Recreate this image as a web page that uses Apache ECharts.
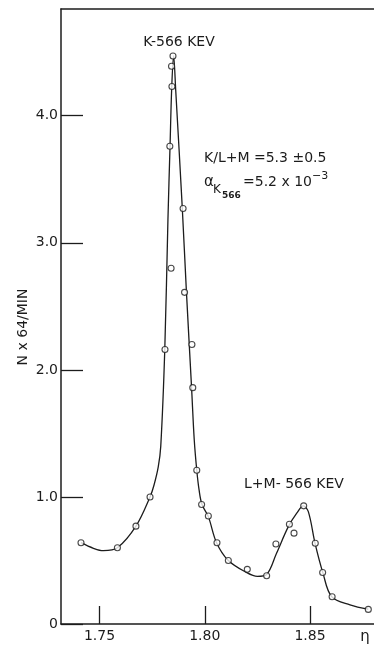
<!DOCTYPE html>
<html>
<head>
<meta charset="utf-8">
<script src="https://cdn.jsdelivr.net/npm/echarts@6/dist/echarts.min.js"></script>
<style>
html,body{margin:0;padding:0;background:#fff;}
#chart{width:374px;height:645px;}
</style>
</head>
<body>
<div id="chart"></div>
<script>
// Measured points (eta, N x 64/min)
var pointEta = [1.7412,1.7585,1.7673,1.7740,1.7811,1.7834,1.7840,1.7844,1.7842,1.7849,1.7897,1.7904,1.7939,1.7943,1.7962,1.7985,1.8017,1.8058,1.8112,1.8202,1.8294,1.8338,1.8402,1.8424,1.8470,1.8525,1.8560,1.8605,1.8777];
var pointN   = [0.64,0.60,0.77,1.00,2.16,3.76,2.80,4.23,4.39,4.47,3.27,2.61,2.20,1.86,1.21,0.94,0.85,0.64,0.50,0.43,0.38,0.63,0.785,0.715,0.93,0.635,0.405,0.215,0.115];
// Hand-drawn fitted curve
var curveEta = [1.7412,1.7471,1.7518,1.7585,1.7673,1.7740,1.7759,1.7779,1.7791,1.7810,1.7825,1.7835,1.7843,1.7852,1.7862,1.7893,1.7913,1.7937,1.7950,1.7962,1.7973,1.7987,1.8017,1.8056,1.8112,1.8200,1.8250,1.8294,1.8341,1.8397,1.8437,1.8468,1.8492,1.8524,1.8561,1.8603,1.8690,1.8777];
var curveN   = [0.64,0.596,0.577,0.60,0.77,1.00,1.094,1.236,1.40,2.157,3.18,3.76,4.22,4.47,4.20,3.28,2.61,1.87,1.45,1.21,1.055,0.94,0.845,0.64,0.50,0.404,0.375,0.39,0.557,0.766,0.872,0.93,0.884,0.635,0.404,0.215,0.15,0.116];
var xTicks = [1.75,1.80,1.85];
var yTicks = [0,1,2,3,4];

var ink = '#1c1c1c';
var FONT = 'DejaVu Sans';
var pts = pointEta.map(function(e,i){return [e,pointN[i]];});
var crv = curveEta.map(function(e,i){return [e,curveN[i]];});

var chart = echarts.init(document.getElementById('chart'), null, {renderer:'canvas'});
chart.setOption({
  animation:false,
  backgroundColor:'#fff',
  grid:{left:61,right:0,top:9,bottom:21,containLabel:false},
  xAxis:[{
    type:'value', min:1.7317, max:1.8804,
    axisLine:{show:true,lineStyle:{color:ink,width:1.5}},
    axisTick:{show:true,inside:true,length:18,customValues:xTicks,lineStyle:{color:ink,width:1.3}},
    axisLabel:{show:true,customValues:xTicks,margin:5,color:ink,fontFamily:FONT,fontSize:14,
      formatter:function(v){return v.toFixed(2);}},
    splitLine:{show:false}
  },{
    type:'value', position:'top', min:1.7317, max:1.8804,
    axisLine:{show:true,onZero:false,lineStyle:{color:ink,width:1.5}},
    axisTick:{show:false}, axisLabel:{show:false}, splitLine:{show:false}
  }],
  yAxis:{
    type:'value', min:0, max:4.84,
    axisLine:{show:true,lineStyle:{color:ink,width:1.5}},
    axisTick:{show:true,inside:true,length:22,customValues:yTicks,lineStyle:{color:ink,width:1.3}},
    axisLabel:{show:true,customValues:yTicks,margin:3,color:ink,fontFamily:FONT,fontSize:14,
      formatter:function(v){return v===0?'0':v.toFixed(1);}},
    splitLine:{show:false}
  },
  series:[{
    type:'line', data:crv, smooth:0.35, showSymbol:false,
    lineStyle:{color:ink,width:1.3}, z:2
  },{
    type:'scatter', data:pts, symbol:'circle', symbolSize:6,
    itemStyle:{color:'#fff',borderColor:ink,borderWidth:1.1}, z:3
  }],
  graphic:[
    {type:'text',x:179,y:42,style:{text:'K-566 KEV',font:'14px '+FONT,fill:ink,textAlign:'center',textVerticalAlign:'middle'}},
    {type:'text',x:204,y:158,style:{text:'K/L+M =5.3 \u00B10.5',font:'14px '+FONT,fill:ink,textAlign:'left',textVerticalAlign:'middle'}},
    {type:'text',x:204,y:182,style:{text:'\u03B1',font:'15px '+FONT,fill:ink,textAlign:'left',textVerticalAlign:'middle'}},
    {type:'text',x:213,y:190,style:{text:'K',font:'12px '+FONT,fill:ink,textAlign:'left',textVerticalAlign:'middle'}},
    {type:'text',x:222,y:196,style:{text:'566',font:'bold 9px '+FONT,fill:ink,textAlign:'left',textVerticalAlign:'middle'}},
    {type:'text',x:243,y:182,style:{text:'=5.2 x 10',font:'14px '+FONT,fill:ink,textAlign:'left',textVerticalAlign:'middle'}},
    {type:'text',x:312,y:176,style:{text:'\u22123',font:'11px '+FONT,fill:ink,textAlign:'left',textVerticalAlign:'middle'}},
    {type:'text',x:294,y:484,style:{text:'L+M- 566 KEV',font:'14px '+FONT,fill:ink,textAlign:'center',textVerticalAlign:'middle'}},
    {type:'text',x:23,y:327,rotation:Math.PI/2,style:{text:'N x 64/MIN',font:'14px '+FONT,fill:ink,textAlign:'center',textVerticalAlign:'middle'}},
    {type:'text',x:365,y:637,style:{text:'\u03B7',font:'15px '+FONT,fill:ink,textAlign:'center',textVerticalAlign:'middle'}}
  ]
});
</script>
</body>
</html>
